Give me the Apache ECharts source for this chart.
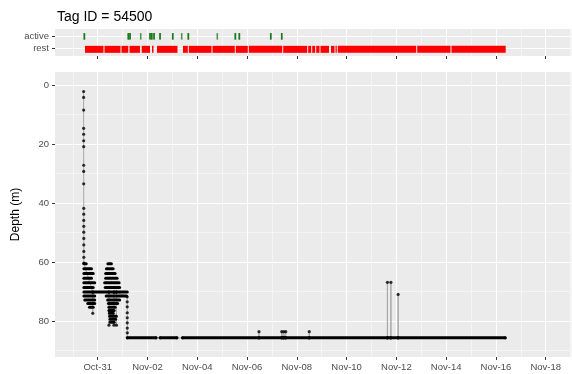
<!DOCTYPE html>
<html>
<head>
<meta charset="utf-8">
<script src="https://cdn.jsdelivr.net/npm/echarts@6/dist/echarts.min.js"></script>
<style>
  html, body { margin: 0; padding: 0; background: #ffffff; }
  #chart { width: 572px; height: 374px; }
</style>
</head>
<body>
<div id="chart"></div>
<script>
// Time is measured in days from 31 Oct 00:00, depth in metres.

const tagId = 54500;

// Date axis: labelled ticks and the unlabelled ones between them
const tickDays = [0, 2, 4, 6, 8, 10, 12, 14, 16, 18];
const tickLabels = ['Oct-31', 'Nov-02', 'Nov-04', 'Nov-06', 'Nov-08', 'Nov-10',
                    'Nov-12', 'Nov-14', 'Nov-16', 'Nov-18'];
const minorDays = [-1, 1, 3, 5, 7, 9, 11, 13, 15, 17, 19];

// Depth axis
const depthTicks = [0, 20, 40, 60, 80];
const depthMinor = [10, 30, 50, 70, 90];

// Behaviour states (row 1 = rest, row 2 = active)
const states = ['rest', 'active'];

// Moments classed as active
const activeDay = [-0.538, -0.534, 1.229, 1.233, 1.298, 1.302, 1.728, 2.101, 2.105,
                   2.170, 2.174, 2.262, 2.266, 2.503, 2.507, 3.013, 3.017, 3.375,
                   3.640, 3.644, 4.805, 5.528, 5.532, 5.689, 5.693, 6.951, 6.955,
                   7.392, 7.396];

// Stretches classed as rest
const restStart = [-0.510, 0.273, 0.956, 1.278, 1.768, 2.182, 2.382, 3.427, 3.660,
                   4.612, 5.548, 6.071, 7.453, 8.457, 8.618, 8.779, 8.951, 9.373,
                   9.554, 9.647, 12.837, 14.214];
const restEnd   = [0.233, 0.916, 1.229, 1.699, 2.101, 2.242, 3.206, 3.620, 4.572,
                   5.508, 6.031, 7.413, 8.417, 8.578, 8.738, 8.911, 9.293, 9.514,
                   9.606, 12.796, 14.174, 16.392];

// Individual depth readings, in time order
const readDay = [
  -0.5660, -0.5655, -0.5650, -0.5645, -0.5640, -0.5635, -0.5630, -0.5625, -0.5620, -0.5615,
  -0.5610, -0.5605, -0.5600, -0.5595, -0.5590, -0.5585, -0.5580, -0.5575, -0.5570, -0.5565,
  -0.200, -0.198, -0.195,
  0.450, 0.452, 0.455,
  0.650, 0.652, 0.655,
  0.750, 0.752, 0.755,
  1.1850, 1.1856, 1.1862, 1.1868, 1.1874, 1.1880, 1.1886, 1.1892, 1.1900,
  2.340, 2.510, 3.180, 3.410,
  6.475, 6.480, 6.485,
  7.390, 7.395, 7.400,
  7.470, 7.475, 7.480,
  7.550, 7.555, 7.560,
  8.495, 8.500, 8.505,
  11.635, 11.640, 11.645,
  11.775, 11.780, 11.785,
  12.065, 12.070, 12.075,
  16.370
];
const readDepth = [
  2.2, 4.2, 8.5, 14.7, 16.7, 18.9, 20.9, 27.2, 29.3, 33.5,
  41.8, 43.8, 45.9, 47.9, 49.9, 52.0, 54.2, 56.4, 58.4, 60.4,
  70.2, 77.4, 70.2,
  70.2, 81.4, 70.2,
  70.2, 81.4, 70.2,
  70.2, 81.4, 70.2,
  71.8, 73.5, 75.2, 77.2, 78.9, 80.6, 82.4, 84.0, 85.7,
  85.7, 85.7, 85.7, 85.7,
  85.7, 83.6, 85.7,
  85.7, 83.6, 85.7,
  85.7, 83.6, 85.7,
  85.7, 83.6, 85.7,
  85.7, 83.6, 85.7,
  85.7, 66.9, 85.7,
  85.7, 66.9, 85.7,
  85.7, 71.0, 85.7,
  85.7
];

// Sustained holds at one depth level (dense runs of readings)
const holdStart = [
  -0.556, -0.556, -0.556, -0.556, -0.556, -0.556, -0.556, -0.556, -0.520, -0.400, -0.330,
  0.410, 0.350, 0.320, 0.320, 0.280, 0.300, 0.340, 0.400, 0.430, 0.450, 0.450, 0.470,
  0.480, 0.500, 0.500,
  1.190, 2.510, 3.410
];
const holdEnd = [
  -0.460, -0.250, -0.180, -0.250, -0.120, -0.180, 1.190, -0.120, -0.120, -0.120, -0.180,
  0.550, 0.620, 0.700, 0.780, 0.860, 0.880, 1.160, 0.880, 0.800, 0.700, 0.660, 0.620,
  0.750, 0.720, 0.660,
  2.340, 3.180, 16.370
];
const holdDepth = [
  60.6, 62.3, 63.9, 65.5, 67.0, 68.6, 70.2, 71.5, 72.9, 74.1, 75.3,
  60.6, 62.3, 63.9, 65.5, 67.0, 68.6, 71.5, 72.9, 74.1, 75.3, 76.4, 77.4,
  78.4, 79.4, 80.4,
  85.7, 85.7, 85.7
];

const FONT = '"Liberation Sans", Arial, sans-serif';
const PANEL = '#ebebeb';
const X_MIN = -1.7155, X_MAX = 19.036;

const chart = echarts.init(document.getElementById('chart'), null, { renderer: 'canvas' });

function majorX(grid, labels) {
  return {
    type: 'value', gridIndex: grid, min: X_MIN, max: X_MAX, position: 'bottom',
    axisLine: { show: false, onZero: false },
    axisTick: { show: true, customValues: tickDays, length: 3, lineStyle: { color: '#333333', width: 1 } },
    axisLabel: labels ? {
      show: true, customValues: tickDays, margin: 5, color: '#4d4d4d',
      fontSize: 9.5, fontFamily: FONT,
      formatter: v => tickLabels[tickDays.indexOf(Math.round(v))]
    } : { show: false },
    splitLine: { show: true, lineStyle: { color: '#ffffff', width: 1 } }
  };
}
function minorX(grid) {
  return {
    type: 'value', gridIndex: grid, min: X_MIN, max: X_MAX, position: 'bottom',
    axisLine: { show: false, onZero: false },
    axisTick: { show: false, customValues: minorDays },
    axisLabel: { show: false, customValues: minorDays },
    splitLine: { show: true, lineStyle: { color: '#f5f5f5', width: 1 } }
  };
}

const option = {
  animation: false,
  backgroundColor: '#ffffff',
  title: {
    text: 'Tag ID = ' + tagId,
    left: 52, top: 5,
    textStyle: { fontSize: 14, fontWeight: 'normal', color: '#000000', fontFamily: FONT }
  },
  grid: [
    { left: 55, right: 0.5, top: 29, height: 27, show: true, backgroundColor: PANEL, borderWidth: 0 },
    { left: 55, right: 0.5, top: 72, height: 285, show: true, backgroundColor: PANEL, borderWidth: 0 }
  ],
  xAxis: [majorX(0, false), minorX(0), majorX(1, true), minorX(1)],
  yAxis: [
    {
      type: 'value', gridIndex: 0, min: 0.4, max: 2.6, position: 'left',
      axisLine: { show: false, onZero: false },
      axisTick: { show: true, customValues: [1, 2], length: 3, lineStyle: { color: '#333333' } },
      axisLabel: {
        show: true, customValues: [1, 2], margin: 6, color: '#4d4d4d', fontSize: 9.5, fontFamily: FONT,
        formatter: v => states[Math.round(v) - 1]
      },
      splitLine: { show: true, lineStyle: { color: '#ffffff', width: 1 } }
    },
    {
      type: 'value', gridIndex: 0, min: 0.4, max: 2.6, position: 'left',
      axisLine: { show: false, onZero: false }, axisTick: { show: false }, axisLabel: { show: false },
      splitLine: { show: false }
    },
    {
      type: 'value', gridIndex: 1, inverse: true, min: -4.41, max: 92.2, position: 'left',
      name: 'Depth (m)', nameLocation: 'middle', nameGap: 33, nameRotate: 90,
      nameTextStyle: { fontSize: 12, color: '#000000', fontFamily: FONT },
      axisLine: { show: false, onZero: false },
      axisTick: { show: true, customValues: depthTicks, length: 3, lineStyle: { color: '#333333' } },
      axisLabel: {
        show: true, customValues: depthTicks, margin: 6, color: '#4d4d4d', fontSize: 9.5, fontFamily: FONT
      },
      splitLine: { show: true, lineStyle: { color: '#ffffff', width: 1 } }
    },
    {
      type: 'value', gridIndex: 1, inverse: true, min: -4.41, max: 92.2, position: 'left',
      axisLine: { show: false, onZero: false },
      axisTick: { show: false, customValues: depthMinor },
      axisLabel: { show: false, customValues: depthMinor },
      splitLine: { show: true, lineStyle: { color: '#f5f5f5', width: 1 } }
    }
  ],
  series: [
    {
      // rest stretches as solid red bands
      type: 'custom', xAxisIndex: 0, yAxisIndex: 0, clip: true, z: 3,
      data: restStart.map((s, i) => [s, restEnd[i], 1]),
      encode: { x: [0, 1], y: 2 },
      renderItem: (params, api) => {
        const a = api.coord([api.value(0), api.value(2)]);
        const b = api.coord([api.value(1), api.value(2)]);
        return {
          type: 'rect',
          shape: { x: a[0], y: a[1] - 2.8, width: b[0] - a[0], height: 7 },
          style: { fill: '#ff0000' }
        };
      }
    },
    {
      // active moments as short green ticks
      type: 'scatter', xAxisIndex: 0, yAxisIndex: 0, z: 3,
      data: activeDay.map(d => [d, 2]),
      symbol: 'rect', symbolSize: [1.6, 6.5],
      itemStyle: { color: '#0a6e0a', opacity: 0.7 }
    },
    {
      // connecting line between successive readings
      type: 'line', xAxisIndex: 2, yAxisIndex: 2, z: 1,
      data: readDay.map((d, i) => [d, readDepth[i]]),
      showSymbol: false, symbol: 'none',
      lineStyle: { color: '#a8a8a8', width: 1 }
    },
    {
      // runs of readings held at one depth
      type: 'custom', xAxisIndex: 2, yAxisIndex: 2, clip: true, z: 3,
      data: holdStart.map((s, i) => [s, holdEnd[i], holdDepth[i]]),
      encode: { x: [0, 1], y: 2 },
      renderItem: (params, api) => {
        const a = api.coord([api.value(0), api.value(2)]);
        const b = api.coord([api.value(1), api.value(2)]);
        return {
          type: 'line',
          shape: { x1: a[0], y1: a[1], x2: b[0], y2: b[1] },
          style: { stroke: '#000000', lineWidth: 3, lineCap: 'round' }
        };
      }
    },
    {
      // individual readings
      type: 'scatter', xAxisIndex: 2, yAxisIndex: 2, z: 4,
      data: readDay.map((d, i) => [d, readDepth[i]]),
      symbol: 'circle', symbolSize: 3.2,
      itemStyle: { color: '#000000' }
    }
  ]
};

chart.setOption(option);
</script>
</body>
</html>
